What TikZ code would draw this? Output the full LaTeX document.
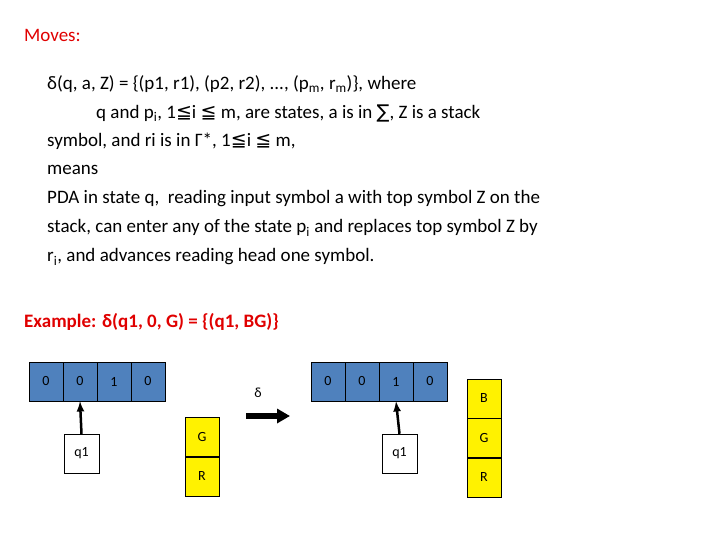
\documentclass[tikz,border=0pt]{standalone}
\usepackage{fontspec}
\setmainfont{Carlito}
\newfontfamily\symfont{DejaVu Sans}
\usetikzlibrary{positioning,arrows.meta}
\definecolor{tapeblue}{HTML}{4F81BD}
\definecolor{redtext}{HTML}{E00000}
\tikzset{
  txt/.style={anchor=west,inner sep=0pt,font=\fontsize{19}{23}\selectfont},
  cell/.style={draw=black,fill=tapeblue,minimum width=34pt,minimum height=39pt,inner sep=0pt,font=\fontsize{14}{16}\selectfont},
  slot/.style={draw=black,fill=yellow,minimum width=34pt,minimum height=39pt,inner sep=0pt,font=\fontsize{14}{16}\selectfont},
  statebox/.style={draw=black,fill=white,minimum width=35pt,minimum height=39pt,inner sep=0pt,font=\fontsize{14}{16}\selectfont},
}
\newcommand{\leqq}{{\symfont ≦}}
\begin{document}
\begin{tikzpicture}[x=1pt,y=-1pt]
\useasboundingbox (0,0) rectangle (720,540);
\node[txt,text=redtext] (title) at (24,35) {Moves:};
\node[txt] (l1) at (47,84) {δ(q, a, Z) = \{(p1, r1), (p2, r2), ..., (p\textsubscript{m}, r\textsubscript{m})\}, where};
\node[txt] (l2) at (96,113) {q and p\textsubscript{i}, 1\leqq i \leqq{} m, are states, a is in {\symfont ∑}, Z is a stack};
\node[txt] (l3) at (47,141) {symbol, and ri is in Γ*, 1\leqq i \leqq{} m,};
\node[txt] (l4) at (47,170) {means};
\node[txt] (l5) at (47,199) {PDA in state q,\ \ reading input symbol a with top symbol Z on the};
\node[txt] (l6) at (47,228) {stack, can enter any of the state p\textsubscript{i} and replaces top symbol Z by};
\node[txt] (l7) at (47,257) {r\textsubscript{i}, and advances reading head one symbol.};
\node[txt,text=redtext,font=\bfseries\fontsize{19}{23}\selectfont] (ex) at (24,322) {Example: δ(q1, 0, G) = \{(q1, BG)\}};
% left configuration
\foreach \s [count=\i] in {0,0,1,0}
  \node[cell] (a\i) at (46+34*\i-34,381.5) {\s};
\node[statebox] (qa) at (81.5,453.5) {q1};
\draw[-latex,line width=2.5pt] (qa.north) -- (a2.south);
\node[slot] (sa1) at (202,437) {G};
\node[slot,below=0pt of sa1] (sa2) {R};
% move
\coordinate (m1) at (246,416);
\coordinate (m2) at (290,416);
\draw[line width=6pt,-{Triangle[length=13pt,width=14pt]}] (m1) -- (m2);
\node[font=\fontsize{14}{16}\selectfont] (delta) at (258,393) {δ};
% right configuration
\foreach \s [count=\i] in {0,0,1,0}
  \node[cell] (b\i) at (328+34*\i-34,381.5) {\s};
\node[statebox] (qb) at (399.5,453.5) {q1};
\draw[-latex,line width=2.5pt] (qb.north) -- (b3.south);
\node[slot] (sb1) at (484,398.5) {B};
\node[slot,below=0pt of sb1] (sb2) {G};
\node[slot,below=0pt of sb2] (sb3) {R};
\end{tikzpicture}
\end{document}
